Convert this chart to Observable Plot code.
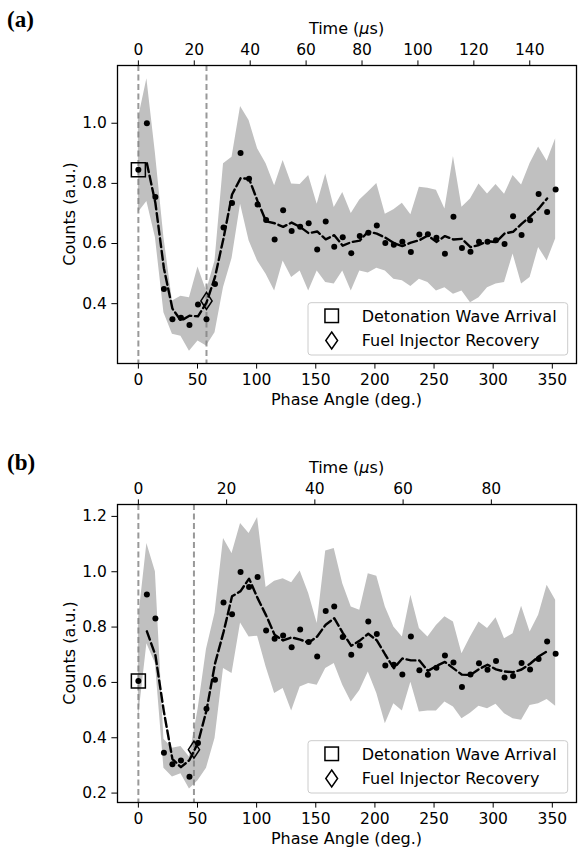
<!DOCTYPE html>
<html><head><meta charset="utf-8">
<script src="https://cdn.jsdelivr.net/npm/d3@7"></script>
<script src="https://cdn.jsdelivr.net/npm/@observablehq/plot@0.6"></script>
<style>
body{margin:0;background:#fff;}
#root{position:relative;width:587px;height:855px;overflow:hidden;font-family:"DejaVu Sans",sans-serif;}
.panel{position:absolute;left:0;}
.overlay{position:absolute;left:0;top:0;pointer-events:none;}
</style></head><body><div id="root"></div>
<script>
// Phase angle (deg.) of each bin
const phase = [0,7.2,14.4,21.6,28.8,36,43.2,50.4,57.6,64.8,72,79.2,86.4,93.6,100.8,108,115.2,122.4,129.6,136.8,144,151.2,158.4,165.6,172.8,180,187.2,194.4,201.6,208.8,216,223.2,230.4,237.6,244.8,252,259.2,266.4,273.6,280.8,288,295.2,302.4,309.6,316.8,324,331.2,338.4,345.6,352.8];

// Panel (a)
const countsA = [0.845,1.0,0.755,0.449,0.348,0.353,0.329,0.397,0.348,0.465,0.653,0.735,0.901,0.815,0.73,0.678,0.613,0.711,0.642,0.656,0.667,0.58,0.673,0.589,0.621,0.568,0.625,0.636,0.66,0.602,0.596,0.606,0.572,0.63,0.631,0.619,0.566,0.689,0.585,0.573,0.606,0.606,0.611,0.598,0.691,0.628,0.677,0.765,0.705,0.78];
const upperA = [1.015,1.148,0.9,0.62,0.409,0.425,0.42,0.522,0.442,0.542,0.865,0.887,1.056,1.009,0.915,0.865,0.792,0.876,0.798,0.796,0.826,0.731,0.831,0.72,0.77,0.70,0.745,0.771,0.8,0.697,0.712,0.734,0.696,0.787,0.784,0.777,0.715,0.889,0.721,0.748,0.798,0.765,0.796,0.764,0.826,0.795,0.866,0.921,0.874,0.948];
const lowerA = [0.703,0.74,0.62,0.37,0.298,0.292,0.242,0.276,0.259,0.303,0.454,0.55,0.731,0.609,0.542,0.498,0.442,0.542,0.487,0.509,0.442,0.509,0.47,0.465,0.509,0.442,0.509,0.502,0.518,0.509,0.481,0.476,0.457,0.481,0.47,0.442,0.453,0.431,0.442,0.403,0.42,0.453,0.465,0.47,0.565,0.465,0.487,0.587,0.542,0.615];
const arrivalA = {phase: 0, counts: 0.845};
const recoveryA = {phase: 57.6, counts: 0.409};
const timeTicksA = [0,20,40,60,80,100,120,140];
const periodA = 152.3; // µs per 360°

// Panel (b)
const countsB = [0.605,0.918,0.831,0.346,0.304,0.318,0.259,0.381,0.505,0.61,0.889,0.846,0.999,0.945,0.981,0.788,0.758,0.77,0.727,0.791,0.746,0.694,0.858,0.874,0.764,0.7,0.733,0.82,0.775,0.661,0.664,0.629,0.766,0.644,0.628,0.653,0.697,0.672,0.583,0.629,0.669,0.646,0.677,0.618,0.623,0.67,0.647,0.685,0.748,0.704];
const upperB = [0.825,1.102,1.0,0.395,0.362,0.368,0.33,0.5,0.72,0.85,1.12,1.066,1.174,1.138,1.196,0.943,0.966,0.975,0.96,1.003,0.921,0.813,1.075,1.084,0.957,0.873,0.861,0.993,0.984,0.873,0.8,0.764,0.915,0.795,0.764,0.806,0.837,0.818,0.704,0.764,0.818,0.795,0.834,0.758,0.776,0.875,0.782,0.843,0.951,0.897];
const lowerB = [0.47,0.74,0.668,0.29,0.258,0.27,0.215,0.245,0.29,0.397,0.65,0.632,0.815,0.764,0.767,0.656,0.56,0.578,0.497,0.583,0.596,0.59,0.65,0.668,0.59,0.529,0.571,0.638,0.56,0.451,0.523,0.497,0.601,0.493,0.497,0.497,0.529,0.511,0.469,0.489,0.514,0.505,0.521,0.487,0.469,0.463,0.517,0.523,0.538,0.514];
const arrivalB = {phase: 0, counts: 0.605};
const recoveryB = {phase: 47, counts: 0.357};
const timeTicksB = [0,20,40,60,80];
const periodB = 96.5;

const phaseTicks = [0,50,100,150,200,250,300,350];
const yTicksA = [0.4,0.6,0.8,1.0];
const yTicksB = [0.2,0.4,0.6,0.8,1.0,1.2];
const legendLabels = ["Detonation Wave Arrival","Fuel Injector Recovery"];

const thinDiamond = {
  draw(ctx, size) {
    const s = Math.sqrt(size), hy = s * 0.6, hx = hy * 0.66;
    ctx.moveTo(0, -hy); ctx.lineTo(hx, 0); ctx.lineTo(0, hy); ctx.lineTo(-hx, 0); ctx.closePath();
  }
};

const root = document.getElementById("root");

function makePanel(cfg) {
  const data = phase.map((p, i) => ({phase: p, counts: cfg.counts[i], upper: cfg.upper[i], lower: cfg.lower[i]}));
  const degPerUs = 360 / cfg.period;
  const chart = Plot.plot({
    width: 587, height: cfg.height,
    marginLeft: 117, marginRight: 11, marginTop: cfg.marginTop, marginBottom: cfg.marginBottom,
    style: {fontFamily: '"DejaVu Sans", sans-serif', fontSize: "15.5px", color: "#000", background: "#fff", overflow: "visible"},
    x: {domain: [-17.64, 370.44]},
    y: {domain: cfg.yDomain},
    marks: [
      Plot.areaY(data, {x: "phase", y1: "lower", y2: "upper", fill: "#c0c0c0"}),
      Plot.ruleX([cfg.arrival.phase, cfg.recovery.phase], {stroke: "#808080", strokeOpacity: 0.8, strokeWidth: 2, strokeDasharray: "6,3.5"}),
      Plot.dot(data, {x: "phase", y: "counts", r: 3, fill: "black"}),
      Plot.line(data, Plot.windowY({k: 3, anchor: "middle", reduce: "mean", strict: true}, {x: "phase", y: "counts", stroke: "black", strokeWidth: 2.4, strokeDasharray: "8.9,3.8"})),
      Plot.dot([cfg.arrival], {x: "phase", y: "counts", symbol: "square", r: 7.9, stroke: "black", strokeWidth: 1.5, fill: "none"}),
      Plot.dot([cfg.recovery], {x: "phase", y: "counts", symbol: thinDiamond, r: 8, stroke: "black", strokeWidth: 1.5, fill: "none"}),
      Plot.frame({stroke: "black", strokeWidth: 1.3}),
      Plot.axisX({anchor: "bottom", ticks: phaseTicks, tickFormat: d => String(d), tickSize: 5.6, tickPadding: 5, label: null}),
      Plot.axisX({anchor: "top", ticks: cfg.timeTicks.map(t => t * degPerUs), tickFormat: d => String(Math.round(d / degPerUs)), tickSize: 5.6, tickPadding: 5, label: null}),
      Plot.axisY({anchor: "left", ticks: cfg.yTicks, tickFormat: d3.format(".1f"), tickSize: 5.6, tickPadding: 5, label: null})
    ]
  });
  const div = document.createElement("div");
  div.className = "panel";
  div.style.top = cfg.top + "px";
  div.appendChild(chart);
  root.appendChild(div);
}

makePanel({top: 0, height: 420, marginTop: 65, marginBottom: 57, yDomain: [0.201, 1.192], yTicks: yTicksA,
  counts: countsA, upper: upperA, lower: lowerA, arrival: arrivalA, recovery: recoveryA, timeTicks: timeTicksA, period: periodA});
makePanel({top: 430, height: 425, marginTop: 74, marginBottom: 53, yDomain: [0.166, 1.243], yTicks: yTicksB,
  counts: countsB, upper: upperB, lower: lowerB, arrival: arrivalB, recovery: recoveryB, timeTicks: timeTicksB, period: periodB});

// Overlay: panel letters, axis titles, legends
const svg = d3.select(root).append("svg").attr("class", "overlay").attr("width", 587).attr("height", 855)
  .style("font-family", '"DejaVu Sans", sans-serif').style("font-size", "16px");

function labels(o) {
  svg.append("text").attr("x", 7).attr("y", o.letterY).attr("font-family", '"Liberation Serif", serif')
    .attr("font-weight", "bold").attr("font-size", "23px").text(o.letter);
  const t = svg.append("text").attr("x", 346.5).attr("y", o.timeY).attr("text-anchor", "middle");
  t.append("tspan").text("Time (");
  t.append("tspan").attr("font-style", "italic").text("\u03bc");
  t.append("tspan").text("s)");
  svg.append("text").attr("x", 346.5).attr("y", o.phaseY).attr("text-anchor", "middle").text("Phase Angle (deg.)");
  svg.append("text").attr("transform", `translate(75,${o.countsY}) rotate(-90)`).attr("text-anchor", "middle").text("Counts (a.u.)");
  const g = svg.append("g").attr("transform", `translate(308,${o.legendY})`);
  g.append("rect").attr("width", 259.7).attr("height", 52.3).attr("rx", 3).attr("fill", "white").attr("fill-opacity", 0.8).attr("stroke", "#cccccc").attr("stroke-width", 1);
  g.append("rect").attr("x", 23.7 - 6.75).attr("y", 13.1 - 6.75).attr("width", 13.5).attr("height", 13.5).attr("fill", "none").attr("stroke", "black").attr("stroke-width", 1.5);
  g.append("path").attr("d", "M23.7,29.3 L29.6,37.8 L23.7,46.3 L17.8,37.8 Z").attr("fill", "none").attr("stroke", "black").attr("stroke-width", 1.5);
  g.append("text").attr("x", 53.7).attr("y", 19).text(legendLabels[0]);
  g.append("text").attr("x", 53.7).attr("y", 43.3).text(legendLabels[1]);
}
labels({letter: "(a)", letterY: 27, timeY: 34, phaseY: 404.5, countsY: 214, legendY: 302.7});
labels({letter: "(b)", letterY: 470, timeY: 472.5, phaseY: 843.7, countsY: 653, legendY: 740.7});
</script>
</body></html>
